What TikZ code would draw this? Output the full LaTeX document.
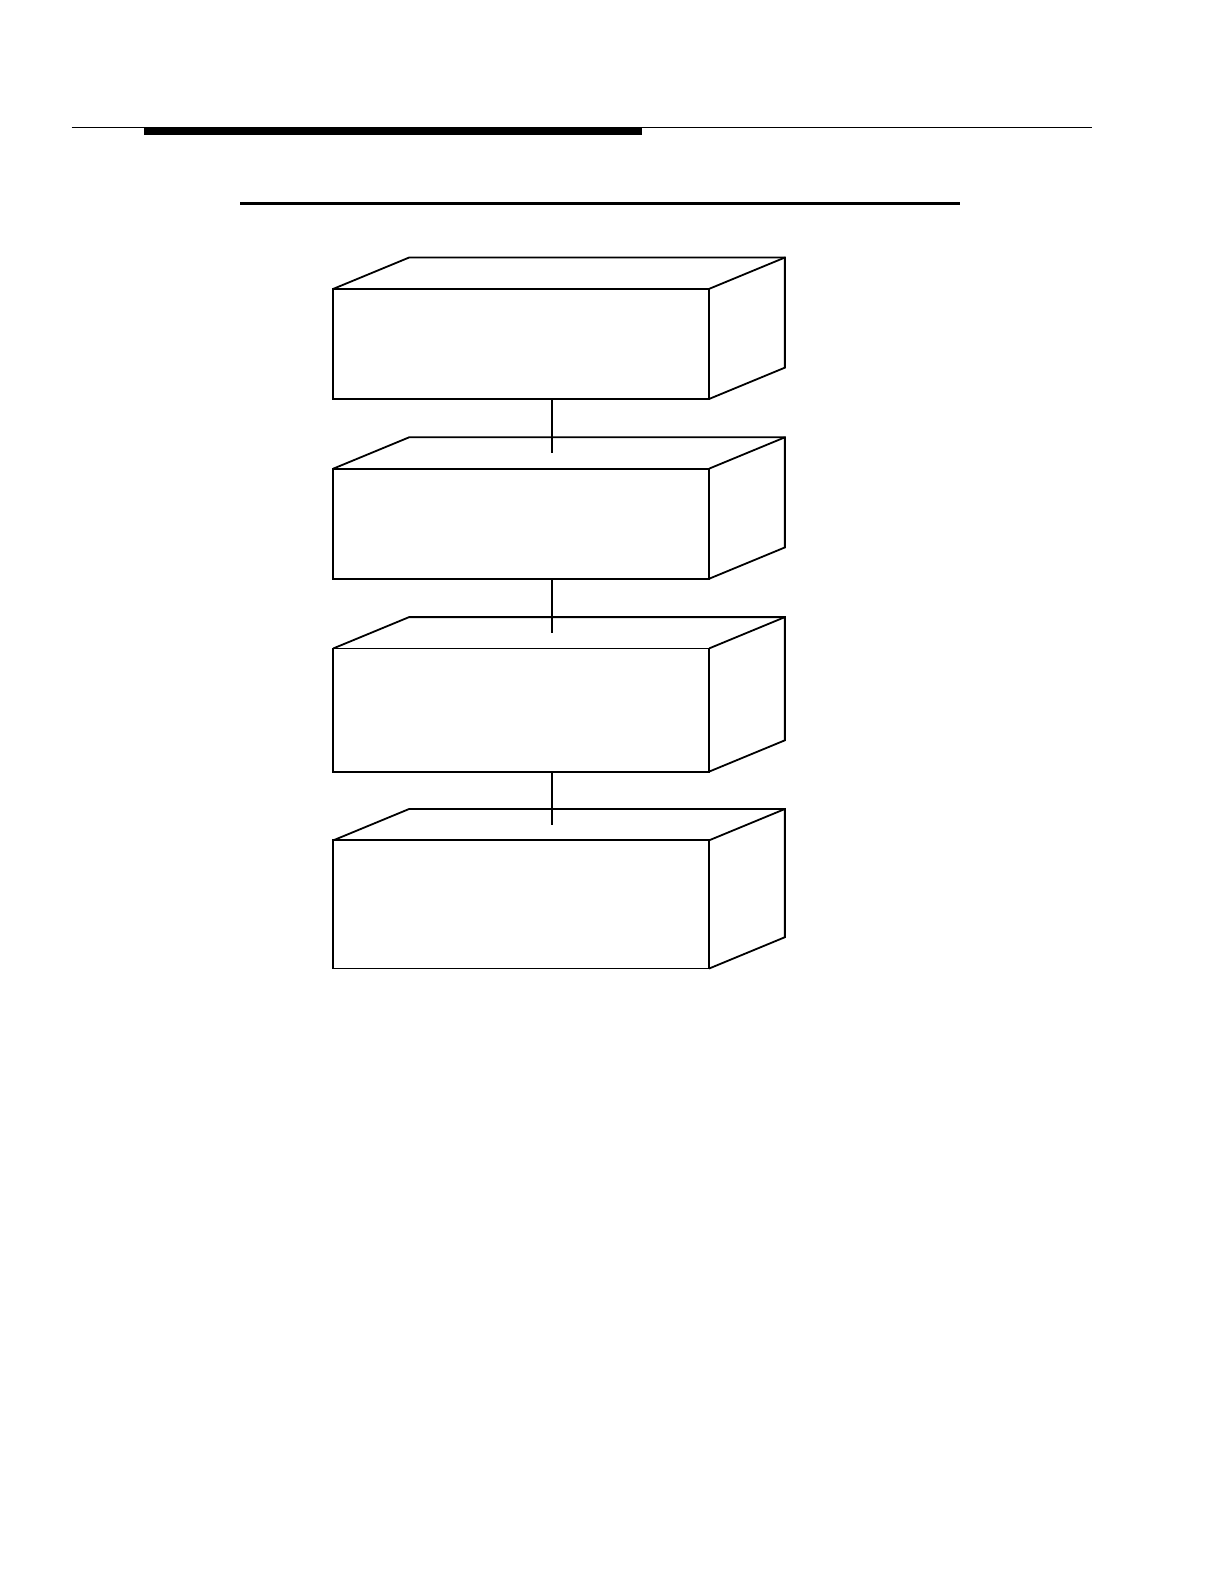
\documentclass[tikz,border=0pt]{standalone}
\begin{document}
\begin{tikzpicture}[x=0.505pt,y=-0.505pt,
  front/.style={draw,line width=0.9pt,minimum width=187.9pt,inner sep=0pt,outer sep=0pt,anchor=north west},
  edge3d/.style={line width=0.9pt,line join=miter},
  link/.style={line width=1pt}]
\useasboundingbox (0pt,0pt) rectangle (612pt,-792pt);
% header rules
\coordinate (tl) at (71,126.5);
\coordinate (tr) at (1081,126.5);
\draw[line width=0.6pt] (tl) -- (tr);
\fill (143,126) rectangle (636,134);
\coordinate (hl) at (238,201.5);
\coordinate (hr) at (950,201.5);
\draw[line width=1.1pt] (hl) -- (hr);
% boxes (front faces)
\node[front,minimum height=55.05pt] (b1) at (330,286) {};
\node[front,minimum height=55.05pt] (b2) at (330,464) {};
\node[front,minimum height=61.6pt] (b3) at (330,642) {};
\node[front,minimum height=64.1pt] (b4) at (330,832) {};
% top and side faces
\foreach \b in {b1,b2,b3,b4}{
  \draw[edge3d] (\b.north west) -- ++(75,-31) -- ([shift={(75,-31)}]\b.north east)
     -- ([shift={(75,-31)}]\b.south east) -- (\b.south east);
  \draw[edge3d] (\b.north east) -- ++(75,-31);
}
% connectors
\coordinate (c2) at (547,449);
\coordinate (c3) at (547,627);
\coordinate (c4) at (547,817);
\draw[link] (b1.south -| c2) -- (c2);
\draw[link] (b2.south -| c3) -- (c3);
\draw[link] (b3.south -| c4) -- (c4);
\end{tikzpicture}
\end{document}
